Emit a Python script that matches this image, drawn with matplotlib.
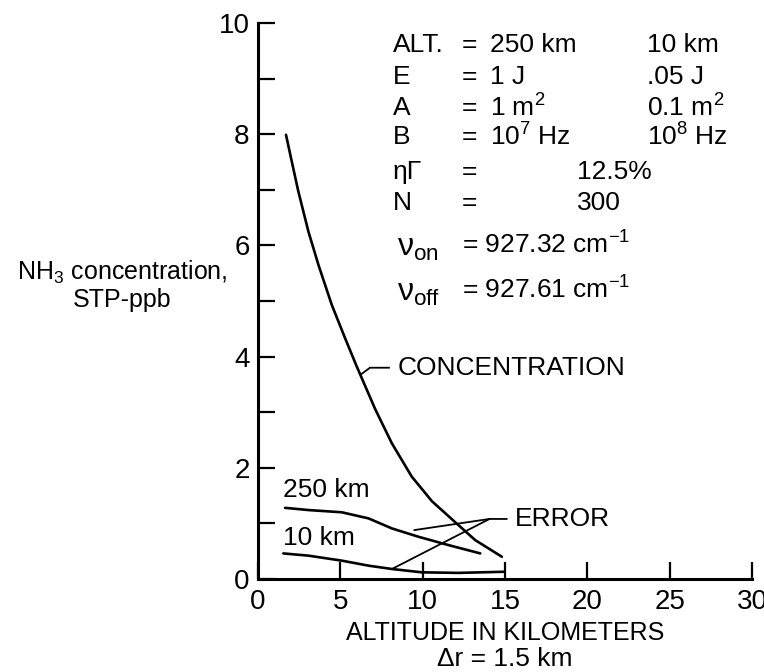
import matplotlib
matplotlib.use("Agg")
import matplotlib.pyplot as plt
from matplotlib.ticker import MultipleLocator

plt.rcParams['font.family'] = ['Liberation Sans', 'DejaVu Sans']
plt.rcParams['mathtext.fontset'] = 'custom'
plt.rcParams['mathtext.rm'] = 'Liberation Sans'
plt.rcParams['mathtext.it'] = 'Liberation Sans:italic'

# curves (altitude km, NH3 ppb)
conc_alt = [1.70, 2.05, 2.45, 3.06, 3.67, 4.48, 5.29, 6.0, 7.11,
            8.13, 9.34, 10.56, 11.98, 13.19, 14.81]
conc_val = [7.99, 7.51, 6.97, 6.25, 5.65, 4.93, 4.33, 3.82, 3.06,
            2.44, 1.84, 1.40, 1.02, 0.70, 0.40]

err250_alt = [1.64, 3.06, 5.09, 6.71, 8.13, 9.74, 11.57, 13.50]
err250_val = [1.28, 1.24, 1.20, 1.09, 0.91, 0.76, 0.61, 0.46]

err10_alt = [1.54, 3.06, 5.09, 6.71, 8.13, 9.95, 12.18, 14.91]
err10_val = [0.46, 0.42, 0.33, 0.24, 0.18, 0.12, 0.11, 0.13]

x_ticks = [0, 5, 10, 15, 20, 25, 30]
y_ticks = [0, 2, 4, 6, 8, 10]

fig = plt.figure(figsize=(7.64, 6.72), dpi=100)
ax = fig.add_axes([258 / 764, 1 - 579 / 672, (752 - 258) / 764, (579 - 23) / 672])

lw = 1.9
for xs, ys in [(conc_alt, conc_val), (err250_alt, err250_val), (err10_alt, err10_val)]:
    ax.plot(xs, ys, color='black', lw=lw, solid_joinstyle='round', solid_capstyle='round')

ax.set_xlim(0, 30)
ax.set_ylim(0, 10)
for s in ['top', 'right']:
    ax.spines[s].set_visible(False)
for s in ['left', 'bottom']:
    ax.spines[s].set_linewidth(2.2)

ax.set_xticks(x_ticks)
ax.set_yticks(y_ticks)
ax.yaxis.set_minor_locator(MultipleLocator(1))
ax.tick_params(axis='both', which='both', direction='in', length=12, width=1.6,
               labelsize=20, pad=6)
ax.tick_params(axis='x', pad=7)

# labels on curves
ax.text(8.5, 3.8, 'CONCENTRATION', fontsize=19, va='center')
ax.plot([6.25, 6.8, 7.95], [3.68, 3.8, 3.8], color='black', lw=1.3)
ax.text(1.5, 1.6, '250 km', fontsize=19, va='center')
ax.text(1.5, 0.74, '10 km', fontsize=19, va='center')
ax.text(15.6, 1.08, 'ERROR', fontsize=19, va='center')
ax.plot([9.5, 14.06, 15.1], [0.88, 1.08, 1.08], color='black', lw=1.3)
ax.plot([8.2, 14.06], [0.19, 1.08], color='black', lw=1.3)

# axis titles
fig.text(122 / 764, 1 - 285 / 672, 'NH$_3$ concentration,\nSTP-ppb',
         fontsize=18, ha='center', va='center', linespacing=1.1)
fig.text(505 / 764, 1 - 633 / 672, 'ALTITUDE IN KILOMETERS', fontsize=18,
         ha='center', va='center')
fig.text(505 / 764, 1 - 659 / 672, 'Δr = 1.5 km', fontsize=19,
         ha='center', va='center')

# parameter block
rows_y = [45, 77, 108, 137, 172, 203]
names = ['ALT.', 'E', 'A', 'B', 'ηΓ', 'N']
vals_250 = ['250 km', '1 J', '1 m$^2$', '10$^7$ Hz']
vals_10 = ['10 km', '.05 J', '0.1 m$^2$', '10$^8$ Hz']
shared = ['12.5%', '300']


def ft(px, py, s, size=19):
    fig.text(px / 764, 1 - py / 672, s, fontsize=size, va='center')


for i, py in enumerate(rows_y):
    ft(393, py, names[i])
    ft(462, py, '=')
for i in range(4):
    ft(490, rows_y[i], vals_250[i])
    ft(647, rows_y[i], vals_10[i])
for i in range(2):
    ft(577, rows_y[4 + i], shared[i])

ft(397, 248, r'ν$_{\mathrm{on}}$', size=23)
ft(462, 245, r'= 927.32 cm$^{-1}$')
ft(397, 293, r'ν$_{\mathrm{off}}$', size=23)
ft(462, 290, r'= 927.61 cm$^{-1}$')

fig.savefig('out.png', dpi=100)
